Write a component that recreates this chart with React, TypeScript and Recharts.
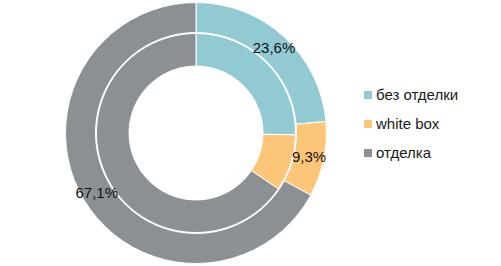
import { PieChart, Pie, Cell } from "recharts";

const categories = ["без отделки", "white box", "отделка"];
const colors = ["#92CAD4", "#FDC577", "#8B9095"];
const innerValues = [25.3, 9.2, 65.5];
const outerValues = [23.6, 9.3, 67.1];
const outerLabels = ["23,6%", "9,3%", "67,1%"];

const innerData = categories.map((name, i) => ({ name, value: innerValues[i] }));
const outerData = categories.map((name, i) => ({ name, value: outerValues[i], label: outerLabels[i] }));

const RADIAN = Math.PI / 180;

function renderLabel(props: any) {
  const { cx, cy, midAngle, innerRadius, outerRadius, index } = props;
  const r = (innerRadius + outerRadius) / 2;
  const x = cx + r * Math.cos(-midAngle * RADIAN);
  const y = cy + r * Math.sin(-midAngle * RADIAN);
  return (
    <text x={x} y={y} textAnchor="middle" dominantBaseline="central" fill="#111" fontSize={15}>
      {outerLabels[index]}
    </text>
  );
}

function ChartLegend() {
  return (
    <div style={{ position: 'absolute', left: 364, top: 80 }}>
      {categories.map((name, i) => (
        <div key={name} style={{ display: 'flex', alignItems: 'center', height: 29 }}>
          <span style={{ width: 8, height: 8, background: colors[i], marginRight: 4, display: 'inline-block' }} />
          <span style={{ fontSize: 15, color: '#1a1a1a' }}>{name}</span>
        </div>
      ))}
    </div>
  );
}

export default function App() {
  return (
    <div style={{ position: 'absolute', left: 0, top: 0, width: 501, height: 266, background: '#fff', fontFamily: '"Liberation Sans", Arial, sans-serif' }}>
      <PieChart width={501} height={266} margin={{ top: 0, right: 0, bottom: 0, left: 0 }}>
        <Pie
          data={innerData}
          dataKey="value"
          cx={196} cy={133}
          innerRadius={67} outerRadius={99.5}
          startAngle={90} endAngle={-270}
          stroke="#fff" strokeWidth={1}
          isAnimationActive={false}
        >
          {innerData.map((_, i) => <Cell key={i} fill={colors[i]} />)}
        </Pie>
        <Pie
          data={outerData}
          dataKey="value"
          cx={196} cy={133}
          innerRadius={100.5} outerRadius={130.5}
          startAngle={90} endAngle={-270}
          stroke="#fff" strokeWidth={1}
          label={renderLabel} labelLine={false}
          isAnimationActive={false}
        >
          {outerData.map((_, i) => <Cell key={i} fill={colors[i]} />)}
        </Pie>
      </PieChart>
      <ChartLegend />
    </div>
  );
}
